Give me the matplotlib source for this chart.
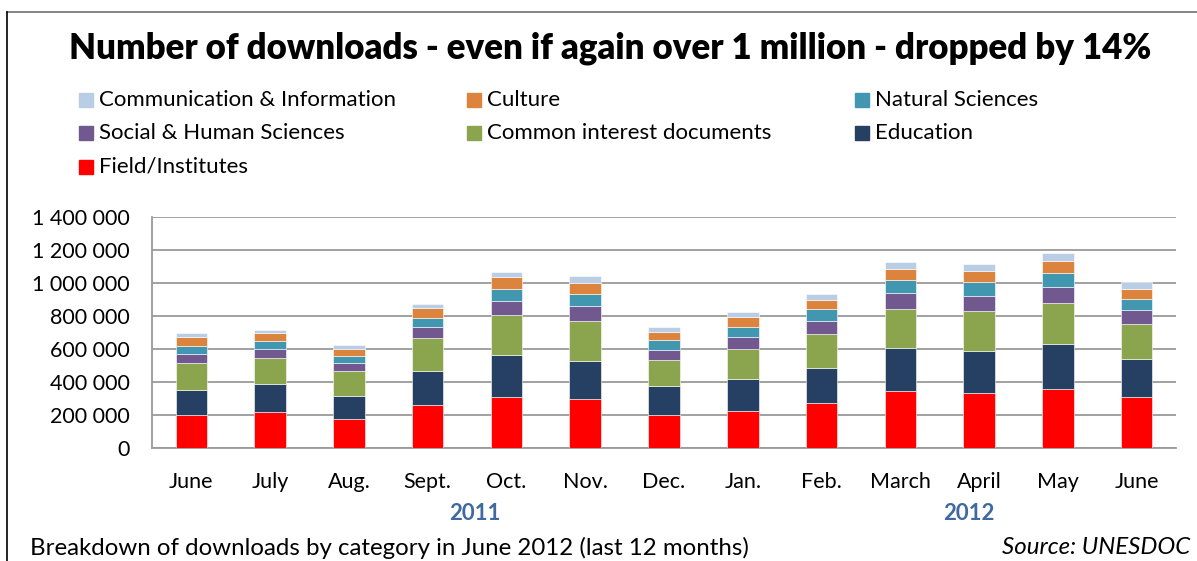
import numpy as np
import matplotlib
matplotlib.use("Agg")
import matplotlib.pyplot as plt
from matplotlib.patches import Rectangle
from matplotlib.lines import Line2D
from matplotlib.ticker import FuncFormatter

plt.rcParams['font.family'] = ['Lato', 'DejaVu Sans']

months = ["June", "July", "Aug.", "Sept.", "Oct.", "Nov.", "Dec.",
          "Jan.", "Feb.", "March", "April", "May", "June"]

# downloads per category (thousands)
field = [199, 221, 173, 260, 311, 298, 203, 225, 272, 345, 331, 355, 309]
education = [154, 165, 142, 209, 251, 228, 171, 195, 215, 264, 258, 274, 233]
common = [163, 160, 152, 199, 246, 245, 160, 181, 203, 235, 241, 248, 209]
social = [56, 55, 47, 63, 81, 90, 61, 71, 79, 94, 92, 99, 83]
natural = [49, 47, 44, 57, 73, 71, 57, 63, 71, 79, 83, 86, 71]
culture = [51, 46, 45, 59, 73, 71, 54, 57, 57, 67, 67, 71, 61]
comm_info = [28, 23, 20, 28, 31, 40, 29, 32, 39, 45, 42, 46, 41]

series = [
    ("Field/Institutes", field, "#FF0000"),
    ("Education", education, "#254062"),
    ("Common interest documents", common, "#8AA54D"),
    ("Social & Human Sciences", social, "#71588F"),
    ("Natural Sciences", natural, "#4297B0"),
    ("Culture", culture, "#DC843D"),
    ("Communication & Information", comm_info, "#B9CDE5"),
]

W, H = 1197, 561
fig = plt.figure(figsize=(W / 100, H / 100), dpi=100)
ax = fig.add_axes([152 / W, 1 - 448 / H, (1176 - 152) / W, (448 - 217) / H])

x = np.arange(len(months))
bottom = np.zeros(len(months))
for name, vals, col in series:
    v = np.array(vals) * 1000.0
    ax.bar(x, v, 0.4, bottom=bottom, color=col, edgecolor="white", linewidth=0.4, zorder=3)
    bottom += v

ax.set_xlim(-0.5, len(months) - 0.5)
ax.set_ylim(0, 1400000)
ax.set_yticks(np.arange(0, 1400001, 200000))
ax.yaxis.set_major_formatter(FuncFormatter(lambda v, p: f"{int(v):,}".replace(",", " ")))
ax.set_xticks(x)
ax.set_xticklabels(months)
ax.tick_params(axis="both", length=0, labelsize=15.5, colors="black")
ax.tick_params(axis="x", pad=17)
ax.tick_params(axis="y", pad=16)
ax.grid(axis="y", color="#9A9A9A", linewidth=1.3, zorder=0)
for s in ["top", "right"]:
    ax.spines[s].set_visible(False)
for s in ["left", "bottom"]:
    ax.spines[s].set_color("#9A9A9A")
    ax.spines[s].set_linewidth(1.3)

# year labels under the months
for xpos, yr in [(3.6, "2011"), (9.87, "2012")]:
    ax.text(xpos, -0.283, yr, transform=ax.get_xaxis_transform(), ha="center", va="center",
            fontsize=16, fontweight="bold", color="#3F69A0")

fig.text(610 / W, 1 - 48 / H, "Number of downloads - even if again over 1 million - dropped by 14%",
         ha="center", va="center", fontsize=25, fontweight="heavy")

# legend, row by row as in the original
legend_order = ["Communication & Information", "Culture", "Natural Sciences",
                "Social & Human Sciences", "Common interest documents", "Education",
                "Field/Institutes"]
colors = {n: c for n, _, c in series}
col_x = [79, 467, 855]
row_y = [100, 133, 167]
for i, name in enumerate(legend_order):
    cx = col_x[i % 3]
    cy = row_y[i // 3]
    fig.patches.append(Rectangle((cx / W, 1 - (cy + 7) / H), 14 / W, 14 / H,
                                 transform=fig.transFigure, color=colors[name]))
    fig.text((cx + 20) / W, 1 - cy / H, name, ha="left", va="center", fontsize=16)

fig.text(30 / W, 1 - 548 / H, "Breakdown of downloads by category in June 2012 (last 12 months)",
         ha="left", va="center", fontsize=17.3)
fig.text(1190 / W, 1 - 548 / H, "Source: UNESDOC", ha="right", va="center",
         fontsize=17.3, style="italic")

# outer frame (top and left edges only)
fig.lines.append(Line2D([7 / W, 1], [1 - 12 / H, 1 - 12 / H], transform=fig.transFigure,
                        color="#707070", linewidth=1.2))
fig.lines.append(Line2D([7 / W, 7 / W], [1 - 12 / H, 0], transform=fig.transFigure,
                        color="black", linewidth=1.2))

fig.savefig("out.png", dpi=100)
